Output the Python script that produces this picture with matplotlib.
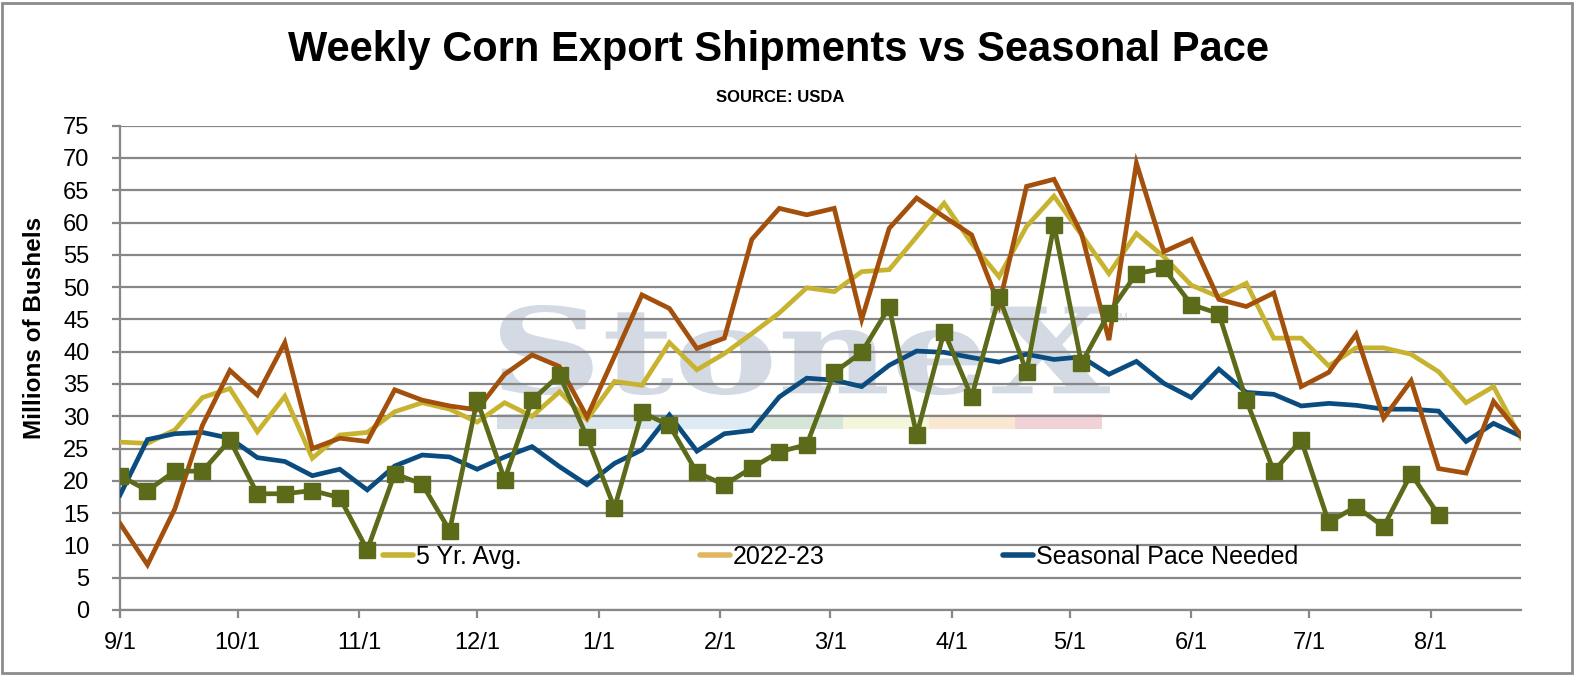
import matplotlib
matplotlib.use("Agg")
import matplotlib.pyplot as plt
import matplotlib.dates as mdates
from matplotlib.lines import Line2D
from matplotlib.patches import Rectangle, PathPatch
from matplotlib.textpath import TextPath
from matplotlib.font_manager import FontProperties
from matplotlib.transforms import Affine2D
import pandas as pd

plt.rcParams['font.family'] = ['Liberation Sans', 'DejaVu Sans']

# weekly points, marketing year starting 9/1
weeks = pd.date_range('2022-09-01', periods=52, freq='7D')
month_ticks = pd.date_range('2022-09-01', '2023-08-01', freq='MS')

five_yr_avg = [26.0, 25.8, 27.9, 32.9, 34.3, 27.6, 33.1, 23.5, 27.1, 27.5,
               30.7, 32.1, 31.1, 29.1, 32.1, 30.0, 33.8, 29.5, 35.4, 34.8,
               41.4, 37.2, 39.7, 42.8, 46.0, 49.9, 49.3, 52.4, 52.7, 57.8,
               63.0, 56.8, 51.6, 59.4, 64.1, 58.1, 52.1, 58.3, 54.7, 50.3,
               48.5, 50.6, 42.1, 42.1, 37.8, 40.6, 40.6, 39.6, 36.9, 32.1,
               34.6, 26.6]

prev_year = [13.4, 7.0, 15.7, 28.6, 37.1, 33.3, 41.4, 25.0, 26.6, 26.1,
             34.1, 32.5, 31.6, 31.0, 36.5, 39.5, 37.7, 29.9, 39.3, 48.8,
             46.7, 40.5, 42.1, 57.4, 62.2, 61.2, 62.2, 45.0, 59.1, 63.8,
             60.9, 58.1, 47.2, 65.6, 66.7, 58.3, 41.8, 69.2, 55.5, 57.4,
             48.1, 47.0, 49.1, 34.6, 36.8, 42.7, 29.7, 35.5, 21.9, 21.2,
             32.3, 27.1]

pace_needed = [17.8, 26.4, 27.3, 27.5, 26.6, 23.6, 23.0, 20.8, 21.8, 18.6,
               22.3, 24.0, 23.7, 21.8, 23.7, 25.3, 22.2, 19.4, 22.7, 24.8,
               30.2, 24.6, 27.3, 27.8, 33.0, 35.9, 35.6, 34.6, 37.9, 40.1,
               39.9, 39.1, 38.4, 39.6, 38.8, 39.2, 36.5, 38.5, 35.1, 32.9,
               37.3, 33.7, 33.4, 31.6, 32.0, 31.7, 31.1, 31.1, 30.8, 26.1,
               28.9, 26.9]

current_year = [20.8, 18.5, 21.5, 21.5, 26.3, 18.0, 18.0, 18.5, 17.4, 9.3,
                21.1, 19.5, 12.3, 32.5, 20.2, 32.5, 36.4, 26.8, 15.8, 30.6,
                28.6, 21.3, 19.4, 22.0, 24.5, 25.6, 36.8, 39.9, 46.9, 27.1,
                43.1, 33.0, 48.5, 36.9, 59.6, 38.2, 46.0, 52.1, 52.9, 47.3,
                45.9, 32.5, 21.5, 26.3, 13.6, 16.0, 12.9, 21.1, 14.7]

legend_labels = ['5 Yr. Avg.', '2022-23', 'Seasonal Pace Needed']
legend_colors = ['#C8B330', '#E0B662', '#0B4C80']

c_avg = '#C8B330'
c_prev = '#A3500C'
c_pace = '#0B4C80'
c_cur = '#5B6B19'
grid_c = '#878787'

W, H = 1577, 677
fig = plt.figure(figsize=(W / 100, H / 100), dpi=100)
ax = fig.add_axes([120 / W, 1 - 610 / H, 1401 / W, 484.3 / H])
ax.set_axisbelow(True)

ax.plot(weeks, five_yr_avg, color=c_avg, lw=3.4, zorder=3, solid_joinstyle='miter')
ax.plot(weeks, prev_year, color=c_prev, lw=3.4, zorder=4, solid_joinstyle='miter')
ax.plot(weeks, pace_needed, color=c_pace, lw=3.4, zorder=3.5, solid_joinstyle='miter')
ax.plot(weeks[:len(current_year)], current_year, color=c_cur, lw=3.4, marker='s',
        ms=12, zorder=5, solid_joinstyle='miter')

ax.set_xlim(weeks[0], weeks[-1])
ax.set_ylim(0, 75)
ax.set_yticks(range(0, 80, 5))
ax.set_xticks(month_ticks)
ax.xaxis.set_major_formatter(mdates.DateFormatter('%-m/%-d'))
ax.grid(axis='y', color=grid_c, lw=1.6)
for s in ['top', 'right']:
    ax.spines[s].set_visible(False)
for s in ['left', 'bottom']:
    ax.spines[s].set_color(grid_c)
    ax.spines[s].set_linewidth(1.6)
ax.tick_params(axis='x', direction='out', length=6, width=1.6, color=grid_c,
               labelsize=17, pad=10)
ax.tick_params(axis='y', direction='out', length=6, width=1.6, color=grid_c,
               labelsize=17, pad=16)

# StoneX watermark (behind gridlines)
tp = TextPath((0, 0), 'StoneX', prop=FontProperties(family='DejaVu Serif', weight='bold'))
bb = tp.get_extents()
x0, x1 = (500 - 120) / 1401, (1110 - 120) / 1401
y0, y1 = (610 - 395) / 484.3, (610 - 305) / 484.3
tr = (Affine2D().translate(-bb.x0, -bb.y0)
      .scale((x1 - x0) / bb.width, (y1 - y0) / bb.height)
      .translate(x0, y0) + ax.transAxes)
ax.add_patch(PathPatch(tp, transform=tr, facecolor='#D3DAE3', edgecolor='none',
                       zorder=0.2))
ax.text((1113 - 120) / 1401, (610 - 318) / 484.3, 'TM', transform=ax.transAxes,
        fontsize=8, color='#D3DAE3', va='center', zorder=0.2)
bar_colors = ['#D5DCE4', '#DCE6EE', '#DDEBF5', '#D5E6D9', '#F5F5DC', '#F9E7D2', '#F1D3D7']
for k, bc in enumerate(bar_colors):
    bx = (497 + k * 86.4 - 120) / 1401
    ax.add_patch(Rectangle((bx, (610 - 429) / 484.3), 86.4 / 1401, 15 / 484.3,
                           transform=ax.transAxes, facecolor=bc, edgecolor='none',
                           zorder=0.2))

handles = [Line2D([], [], color=c, lw=4, solid_capstyle='round') for c in legend_colors]
ax.legend(handles, legend_labels, ncol=3, frameon=False, fontsize=18,
          loc='center left', bbox_to_anchor=((383 - 120) / 1401, (610 - 557) / 484.3),
          borderpad=0, borderaxespad=0, handlelength=1.2, handletextpad=0.1,
          columnspacing=7.15)

fig.text(35 / W, 1 - 328 / H, 'Millions of Bushels', rotation=90, ha='center',
         va='center', fontsize=17.5, fontweight='bold')
fig.text(779 / W, 1 - 50 / H, 'Weekly Corn Export Shipments vs Seasonal Pace',
         ha='center', va='center', fontsize=30, fontweight='bold')
fig.text(780 / W, 1 - 98 / H, 'SOURCE: USDA', ha='center', va='center',
         fontsize=12, fontweight='bold')

fig.patches.append(Rectangle((2 / W, 4 / H), 1570 / W, 670 / H, transform=fig.transFigure,
                             fill=False, edgecolor='#8C8C8C', lw=2))

fig.savefig('out.png', dpi=100)
